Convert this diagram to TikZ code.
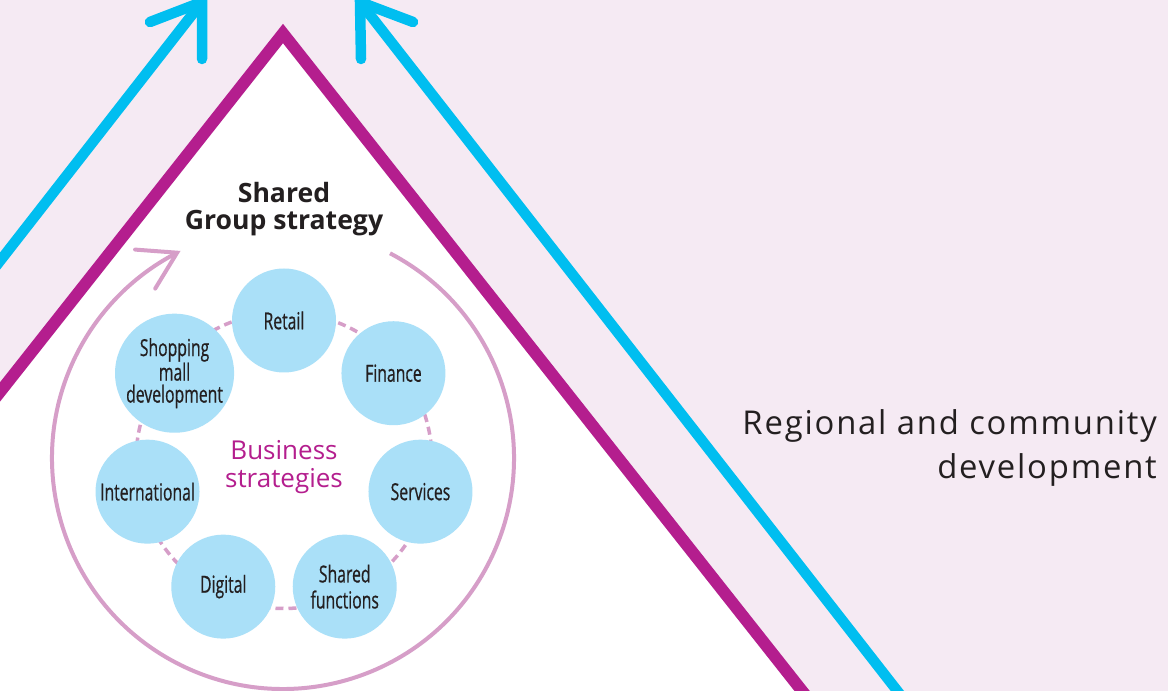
\documentclass[tikz,border=0pt]{standalone}
\usepackage{fontspec}
\setmainfont{Open Sans}
\newfontfamily\condfont{Open Sans}[FakeStretch=0.67,FakeBold=0.6]
\newfontfamily\spacedfont{Open Sans}[LetterSpace=5.5]
\usetikzlibrary{calc}
\definecolor{bgpink}{RGB}{245,234,243}
\definecolor{magline}{RGB}{180,30,142}
\definecolor{cyanline}{RGB}{0,190,240}
\definecolor{bubblefill}{RGB}{170,224,248}
\definecolor{ringpink}{RGB}{214,158,200}
\definecolor{textdark}{RGB}{35,31,32}
\begin{document}
\begin{tikzpicture}[x=1pt,y=1pt,
  bubble/.style={circle, fill=bubblefill, minimum size=104pt, inner sep=0pt, align=center,
    font=\condfont\fontsize{23.5}{22}\selectfont, text=textdark},
  dashring/.style={draw=ringpink, line width=3.5pt, dash pattern=on 8pt off 5pt},
  cyanshaft/.style={draw=cyanline, line width=10.5pt, line cap=butt},
  cyanhead/.style={draw=cyanline, line width=10.5pt, line cap=round, line join=miter},
  cyclearc/.style={draw=ringpink, line width=4pt},
  cyclehead/.style={draw=ringpink, line width=4pt, line cap=round, line join=miter},
  frame/.style={fill=white, draw=magline, line width=12pt, line join=miter},
  titletext/.style={align=center, inner sep=0pt, text=textdark, font=\bfseries\fontsize{26.6}{27}\selectfont},
  innertext/.style={align=center, inner sep=0pt, text=magline, font=\fontsize{26}{28}\selectfont},
  sidetext/.style={align=right, inner sep=0pt, text=textdark, font=\spacedfont\fontsize{32.8}{44}\selectfont}
]
\useasboundingbox (0,0) rectangle (1168,691);
\begin{scope}
\clip (0,0) rectangle (1168,691);
\fill[bgpink] (0,0) rectangle (1168,691);
% cyan arrows
\coordinate (ltip) at (202,689);
\coordinate (rtip) at (360,689);
\draw[cyanshaft] (-147.4,241) -- (ltip);
\draw[cyanhead] (150,669) -- (ltip) -- (202,632);
\draw[cyanshaft] (982.4,-109) -- (rtip);
\draw[cyanhead] (413,669) -- (rtip) -- (361,632);
% magenta frame
\filldraw[frame] (-394,-200) -- (283,657.5) -- (960,-200) -- cycle;
\end{scope}
% cycle arrow
\coordinate (bigc) at (283,233);
\coordinate (ctip) at (177.1,438.3);
\draw[cyclearc] (bigc) ++(62.4:231pt) arc[start angle=62.4, end angle=-242.7, radius=231pt];
\draw[cyclehead] (135.1,441.4) -- (ctip) -- (155.2,402.4);
% dashed ring and bubbles
\coordinate (ctr) at (284,230.5);
\draw[dashring] (ctr) circle[radius=148pt];
\node[bubble] (retail) at ($(ctr)+(90:140pt)$) {Retail};
\node[bubble] (finance) at ($(ctr)+(38.57:140pt)$) {Finance};
\node[bubble] (services) at ($(ctr)+(-12.86:140pt)$) {Services};
\node[bubble, font=\condfont\fontsize{23.5}{26}\selectfont] (shared) at ($(ctr)+(-64.29:140pt)$) {Shared\\functions};
\node[bubble] (digital) at ($(ctr)+(-115.71:140pt)$) {Digital};
\node[bubble] (intl) at ($(ctr)+(-167.14:140pt)$) {International};
\node[bubble] (mall) at ($(ctr)+(141.43:140pt)$) {Shopping\\mall\\development};
% texts
\node[titletext] (title) at (284,481.5) {Shared\\Group strategy};
\node[innertext] (business) at (284,223.6) {Business\\strategies};
\node[sidetext, anchor=north east] (regional) at (1157,281.8) {Regional and community\\development};
\end{tikzpicture}
\end{document}
